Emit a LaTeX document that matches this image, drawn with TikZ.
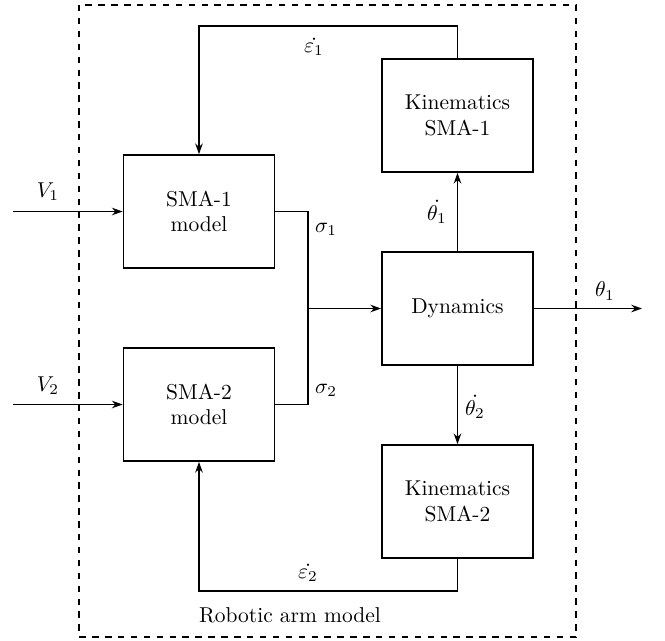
\documentclass[tikz,border=0pt]{standalone}
\usetikzlibrary{arrows.meta}
\begin{document}
\begin{tikzpicture}[x=0.465pt,y=-0.465pt,
  blk/.style={draw,thick,minimum width=70.2pt,minimum height=52.5pt,align=center,inner sep=0pt},
  conn/.style={thick},
  arr/.style={thick,-{Stealth[length=5pt,width=3.5pt]}},
  lbl/.style={inner sep=0pt}]
\useasboundingbox (0,0) rectangle (665,640);
\draw[dashed,thick] (79,5) rectangle (576,637);
\node[blk] (sma1) at (199,211.5) {SMA-1\\model};
\node[blk] (sma2) at (199,404.5) {SMA-2\\model};
\node[blk] (kin1) at (457.5,115.5) {Kinematics\\SMA-1};
\node[blk] (dyn) at (457.5,308.5) {Dynamics};
\node[blk] (kin2) at (457.5,501.5) {Kinematics\\SMA-2};
\coordinate (v1) at (13,211.5);
\coordinate (v2) at (13,404.5);
\coordinate (out) at (642,308.5);
\coordinate (j) at (308,308.5);
\coordinate (top) at (457.5,26);
\coordinate (bot) at (457.5,591);
\draw[arr] (v1) -- (sma1);
\draw[arr] (v2) -- (sma2);
\draw[conn] (sma1.east) -| (j);
\draw[conn] (sma2.east) -| (j);
\draw[arr] (j) -- (dyn);
\draw[arr] (dyn) -- (out);
\draw[arr] (dyn) -- (kin1);
\draw[arr] (dyn) -- (kin2);
\draw[arr] (kin1.north) -- (top) -| (sma1.north);
\draw[arr] (kin2.south) -- (bot) -| (sma2.south);
\node[lbl] (lv1) at (48,192) {$V_1$};
\node[lbl] (lv2) at (48,386) {$V_2$};
\node[lbl] (ls1) at (326,229) {$\sigma_1$};
\node[lbl] (ls2) at (326,390) {$\sigma_2$};
\node[lbl] (lt1) at (437,212) {$\dot{\theta_1}$};
\node[lbl] (lt2) at (475,407) {$\dot{\theta_2}$};
\node[lbl] (le1) at (314,47) {$\dot{\varepsilon_1}$};
\node[lbl] (le2) at (308,573) {$\dot{\varepsilon_2}$};
\node[lbl] (lth) at (605,291) {$\theta_1$};
\node[lbl] (lrob) at (290,615) {Robotic arm model};
\end{tikzpicture}
\end{document}
